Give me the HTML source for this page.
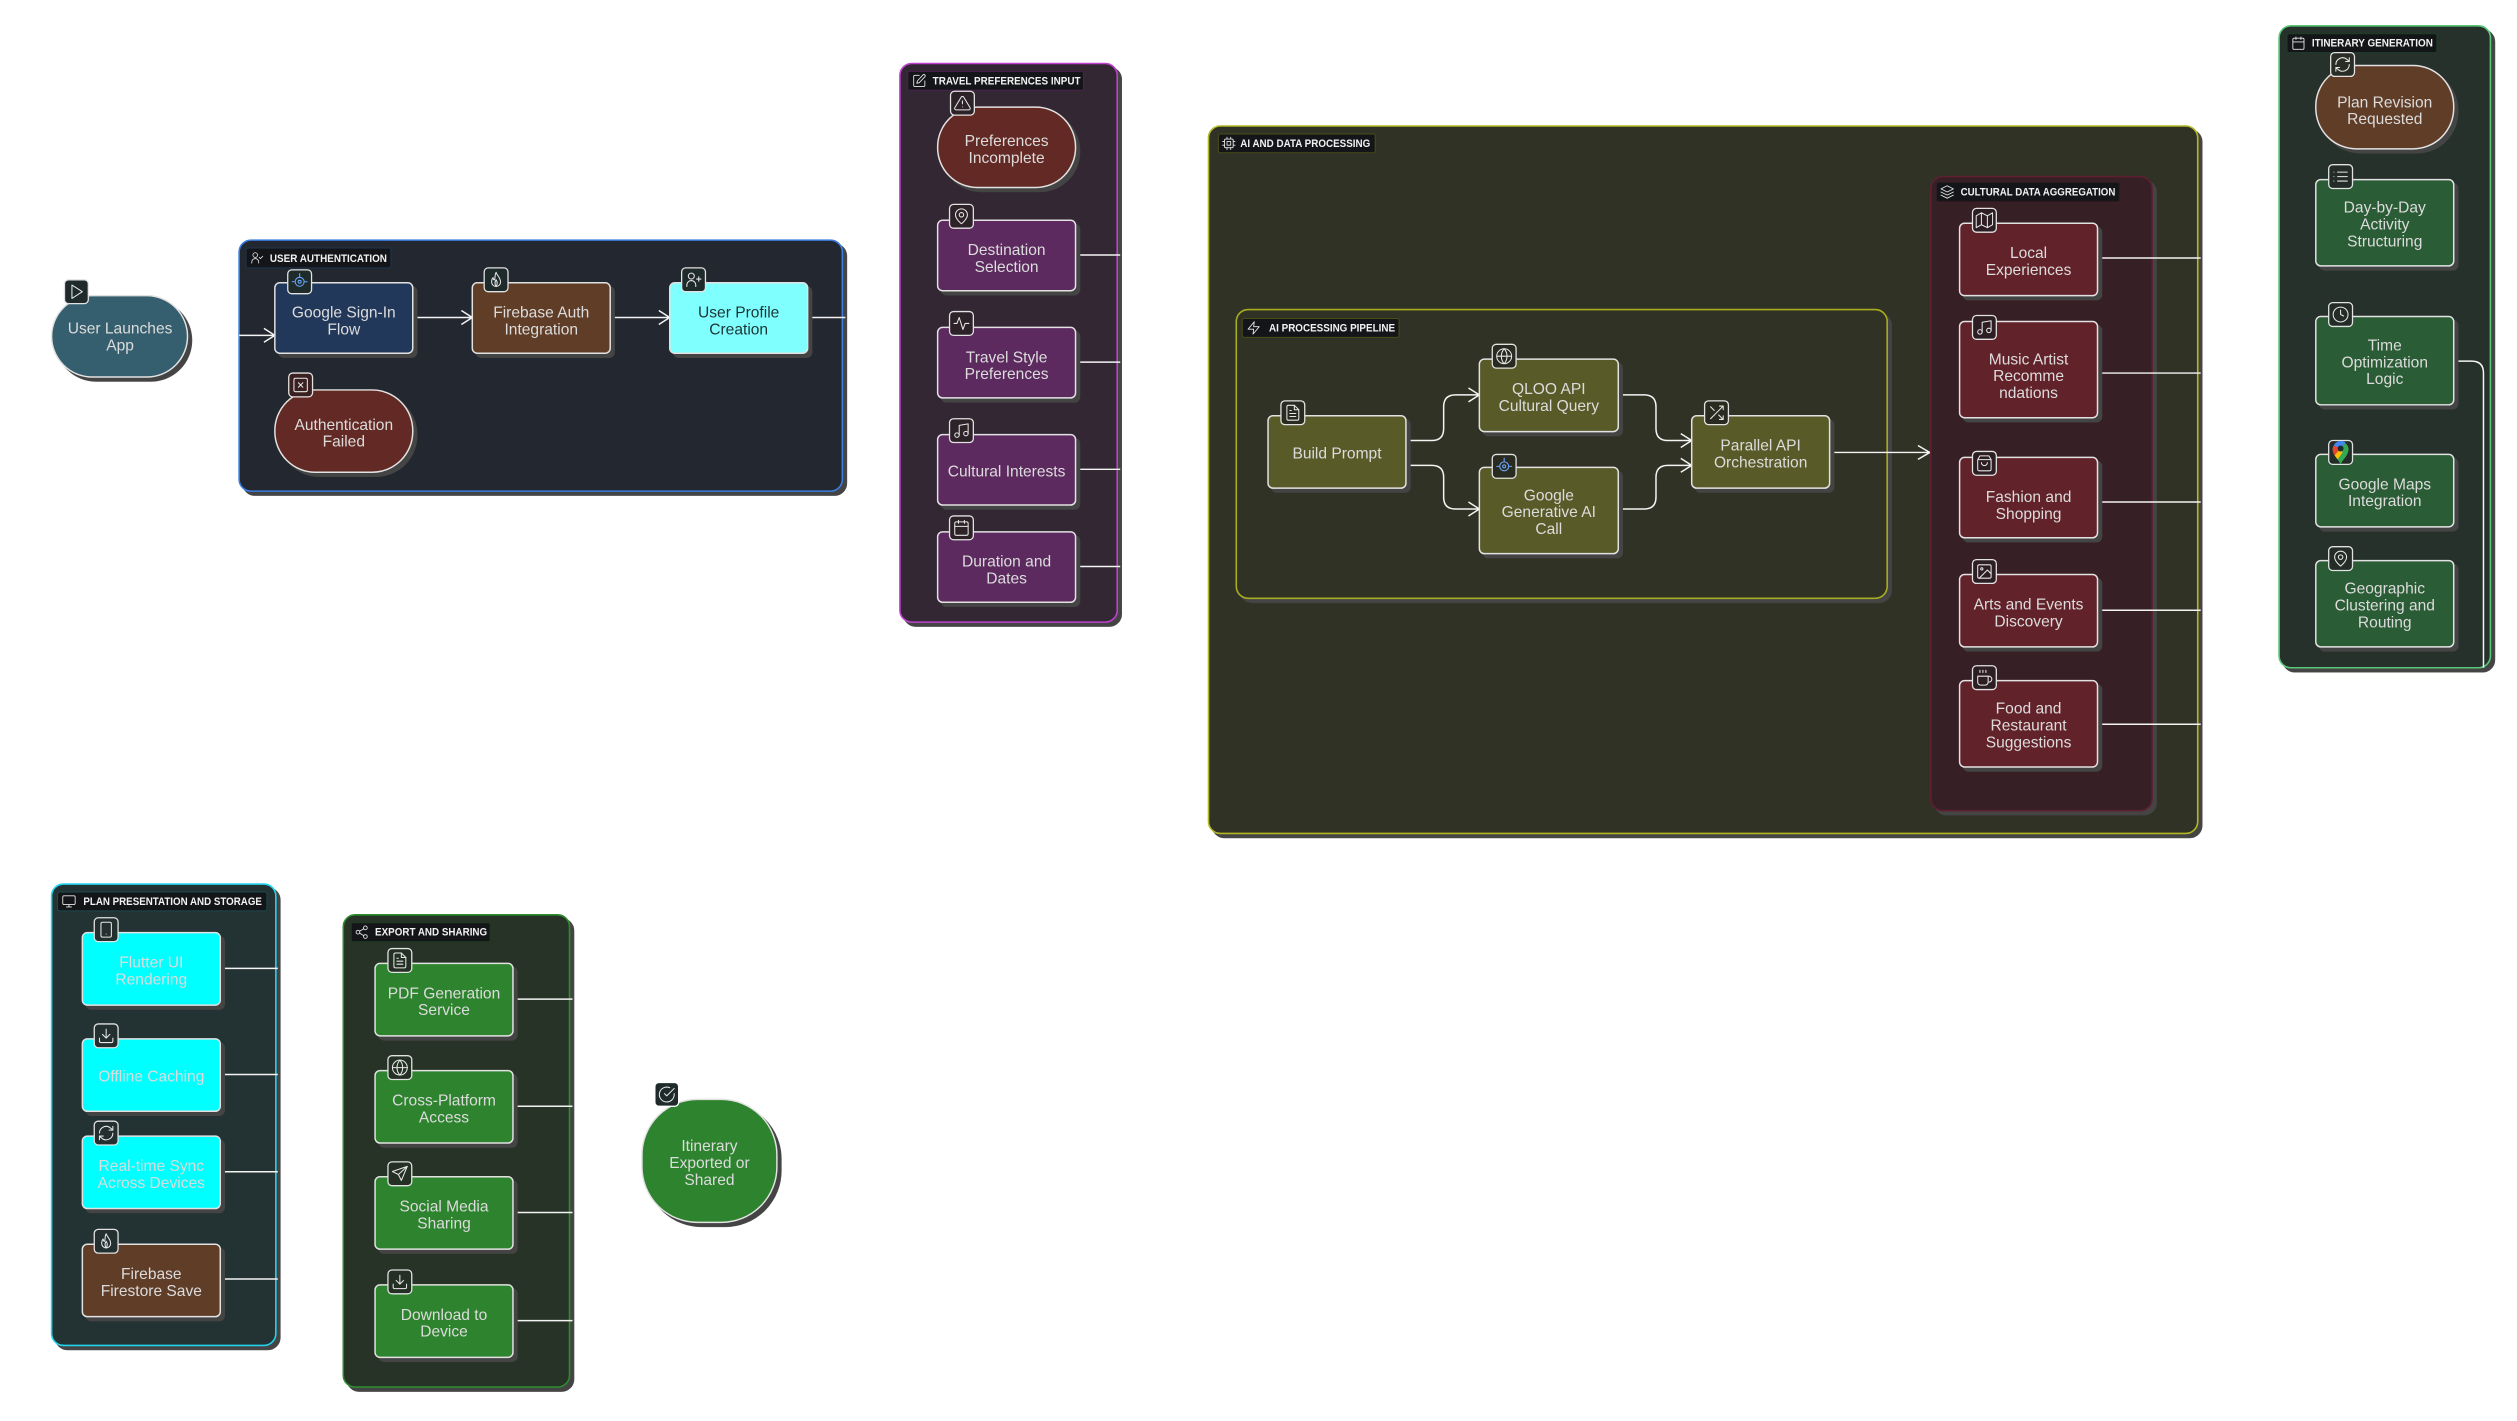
<!DOCTYPE html>
<html><head><meta charset="utf-8"><style>
html,body{margin:0;padding:0;background:#fff}
svg{display:block}
text{font-family:"Liberation Sans",sans-serif}
.t{font-size:15.7px;fill:#dcdcdc;text-anchor:middle;transform:translateY(1.200px)}
.d{fill:#1c3434}
.l{font-size:11px;font-weight:bold;fill:#f2f2f2}
.c{stroke-width:1.6;filter:drop-shadow(4px 4px 0 #444)}
.n{stroke:#e2e2e2;stroke-width:1.500;filter:drop-shadow(4px 4px 0 #444)}
.lb{fill:#141518;stroke-width:1}
.e{fill:none;stroke:#f4f4f4;stroke-width:1.5}
.ib{fill:#1f2b2b;stroke:#e2e2e2;stroke-width:1.3}
.ic{fill:none;stroke:#e8e8e8;stroke-width:1.4;stroke-linecap:round;stroke-linejoin:round}
</style></head><body>
<svg width="2517" height="1421" viewBox="0 0 2517 1421" xmlns="http://www.w3.org/2000/svg">
<defs>
<symbol id="play" viewBox="0 0 24 24"><path d="M6 3l14 9-14 9z"/></symbol>
<symbol id="user" viewBox="0 0 24 24"><circle cx="9" cy="7" r="4"/><path d="M3 21v-2a6 6 0 0 1 12 0v2"/><path d="M16 11l2 2 4-4"/></symbol>
<symbol id="userp" viewBox="0 0 24 24"><circle cx="9" cy="7" r="4"/><path d="M3 21v-2a6 6 0 0 1 12 0v2M19 8v6M16 11h6"/></symbol>
<symbol id="flame" viewBox="0 0 24 24"><path d="M12 2c1 4 6 7 6 13a6 6 0 0 1-12 0c0-3 1-5 2-6 0 2 1 3 2 3 1-3 0-7 2-10z"/><path d="M12 21c-2-3-2-6 0-9 2 3 2 6 0 9z"/></symbol>
<symbol id="x" viewBox="0 0 24 24"><rect x="3" y="3" width="18" height="18" rx="2"/><path d="M9 9l6 6M15 9l-6 6"/></symbol>
<symbol id="edit" viewBox="0 0 24 24"><path d="M12 3H5a2 2 0 0 0-2 2v14a2 2 0 0 0 2 2h14a2 2 0 0 0 2-2v-7"/><path d="M18 2.500a2.100 2.100 0 0 1 3 3L12 15l-4 1 1-4z"/></symbol>
<symbol id="warn" viewBox="0 0 24 24"><path d="M10.300 3.900L1.800 18a2 2 0 0 0 1.700 3h17a2 2 0 0 0 1.700-3L13.700 3.900a2 2 0 0 0-3.400 0zM12 9v4M12 17h.01"/></symbol>
<symbol id="pin" viewBox="0 0 24 24"><path d="M20 10c0 6-8 12-8 12s-8-6-8-12a8 8 0 0 1 16 0z"/><circle cx="12" cy="10" r="3"/></symbol>
<symbol id="pulse" viewBox="0 0 24 24"><path d="M2 12h4l3-8 5 16 3-8h5"/></symbol>
<symbol id="music" viewBox="0 0 24 24"><path d="M9 18V5l12-2v13"/><circle cx="6" cy="18" r="3"/><circle cx="18" cy="16" r="3"/></symbol>
<symbol id="cal" viewBox="0 0 24 24"><rect x="3" y="4" width="18" height="18" rx="2"/><path d="M16 2v4M8 2v4M3 10h18"/></symbol>
<symbol id="cpu" viewBox="0 0 24 24"><rect x="5" y="5" width="14" height="14" rx="2"/><rect x="9" y="9" width="6" height="6"/><path d="M9 2v3M15 2v3M9 19v3M15 19v3M2 9h3M2 15h3M19 9h3M19 15h3"/></symbol>
<symbol id="zap" viewBox="0 0 24 24"><path d="M13 2L3 14h9l-1 8 10-12h-9z"/></symbol>
<symbol id="file" viewBox="0 0 24 24"><path d="M14 2H6a2 2 0 0 0-2 2v16a2 2 0 0 0 2 2h12a2 2 0 0 0 2-2V8z"/><path d="M14 2v6h6M8 13h8M8 17h8M8 9h2"/></symbol>
<symbol id="globe" viewBox="0 0 24 24"><circle cx="12" cy="12" r="10"/><path d="M2 12h20M12 2a15 15 0 0 1 0 20 15 15 0 0 1 0-20z"/></symbol>
<symbol id="shuffle" viewBox="0 0 24 24"><path d="M16 3h5v5M4 20L21 3M21 16v5h-5M15 15l6 6M4 4l5 5"/></symbol>
<symbol id="layers" viewBox="0 0 24 24"><path d="M12 2L2 7l10 5 10-5zM2 12l10 5 10-5M2 17l10 5 10-5"/></symbol>
<symbol id="map" viewBox="0 0 24 24"><path d="M1 6v16l7-4 8 4 7-4V2l-7 4-8-4zM8 2v16M16 6v16"/></symbol>
<symbol id="bag" viewBox="0 0 24 24"><path d="M6 2h12l3 5v13a2 2 0 0 1-2 2H5a2 2 0 0 1-2-2V7zM3 7h18M16 11a4 4 0 0 1-8 0"/></symbol>
<symbol id="image" viewBox="0 0 24 24"><rect x="3" y="3" width="18" height="18" rx="2"/><circle cx="8.500" cy="8.500" r="1.500"/><path d="M21 15l-5-5L5 21"/></symbol>
<symbol id="coffee" viewBox="0 0 24 24"><path d="M17 10h1a4 4 0 0 1 0 8h-1M3 10h14v8a4 4 0 0 1-4 4H7a4 4 0 0 1-4-4zM6 2v3M10 2v3M14 2v3"/></symbol>
<symbol id="refresh" viewBox="0 0 24 24"><path d="M3 12a9 9 0 0 1 15-6.700L21 8M21 3v5h-5M21 12a9 9 0 0 1-15 6.700L3 16M8 16H3v5"/></symbol>
<symbol id="list" viewBox="0 0 24 24"><path d="M8 6h13M8 12h13M8 18h13M3 6h.01M3 12h.01M3 18h.01"/></symbol>
<symbol id="clock" viewBox="0 0 24 24"><circle cx="12" cy="12" r="10"/><path d="M12 6v6l4 2"/></symbol>
<symbol id="monitor" viewBox="0 0 24 24"><rect x="2" y="3" width="20" height="14" rx="2"/><path d="M8 21h8M12 17v4"/></symbol>
<symbol id="phone" viewBox="0 0 24 24"><rect x="5" y="2" width="14" height="20" rx="2"/><path d="M12 18h.01"/></symbol>
<symbol id="dl" viewBox="0 0 24 24"><path d="M21 15v4a2 2 0 0 1-2 2H5a2 2 0 0 1-2-2v-4M7 10l5 5 5-5M12 15V3"/></symbol>
<symbol id="share" viewBox="0 0 24 24"><circle cx="18" cy="5" r="3"/><circle cx="6" cy="12" r="3"/><circle cx="18" cy="19" r="3"/><path d="M8.600 13.500l6.800 4M15.400 6.500l-6.800 4"/></symbol>
<symbol id="send" viewBox="0 0 24 24"><path d="M22 2L2 9l8 4 4 8zM22 2L10 13"/></symbol>
<symbol id="check" viewBox="0 0 24 24"><path d="M22 11v1a10 10 0 1 1-6-9"/><path d="M9 11l3 3L22 4"/></symbol>
<symbol id="gc" viewBox="0 0 24 24"><g style="stroke:#6aa8ff"><circle cx="12" cy="12" r="6"/><circle cx="12" cy="12" r="2"/><path d="M12 1v4M2 12h3M19 12h3"/></g></symbol>
</defs>

<g transform="scale(0.9922)">
<!-- start -->
<rect class="n" x="52" y="298" width="137" height="82" rx="41" fill="#355f6e"/>
<text class="t" x="121" y="335">User Launches</text><text class="t" x="121" y="352">App</text>
<rect class="ib" x="65" y="282" width="24" height="24" rx="4"/><use href="#play" class="ic" x="68" y="285" width="18" height="18"/>

<!-- auth -->
<rect class="c" x="241" y="242" width="608" height="253" rx="12" fill="#23272f" stroke="#3b7de0"/>
<rect class="lb" x="248" y="250" width="146" height="20" rx="2" stroke="#1f3550"/>
<use href="#user" class="ic" x="252" y="253" width="14" height="14"/>
<text class="l" x="272" y="264" textLength="118" lengthAdjust="spacingAndGlyphs">USER AUTHENTICATION</text>
<path class="e" d="M241 338H277M266 331l11 7-11 7M416 320H476M465 313l11 7-11 7M615 320H675M664 313l11 7-11 7M814 320H852"/>
<rect class="n" x="277" y="285" width="139" height="71" rx="5" fill="#22385a"/>
<text class="t" x="346.500" y="319">Google Sign-In</text><text class="t" x="346.500" y="336">Flow</text>
<rect class="ib" x="290" y="272" width="24" height="24" rx="4"/><use href="#gc" class="ic" x="293" y="275" width="18" height="18"/>
<rect class="n" x="476" y="285" width="139" height="71" rx="5" fill="#5f3d27"/>
<text class="t" x="545.500" y="319">Firebase Auth</text><text class="t" x="545.500" y="336">Integration</text>
<rect class="ib" x="488" y="270" width="24" height="24" rx="4"/><use href="#flame" class="ic" x="491" y="273" width="18" height="18"/>
<rect class="n" x="675" y="285" width="139" height="71" rx="5" fill="#80ffff"/>
<text class="t d" x="744.500" y="319">User Profile</text><text class="t d" x="744.500" y="336">Creation</text>
<rect class="ib" x="687" y="270" width="24" height="24" rx="4"/><use href="#userp" class="ic" x="690" y="273" width="18" height="18"/>
<rect class="n" x="277" y="393" width="139" height="83" rx="41" fill="#632a25"/>
<text class="t" x="346.500" y="432">Authentication</text><text class="t" x="346.500" y="449">Failed</text>
<rect class="ib" x="291" y="376" width="24" height="24" rx="4" style="fill:#3a2020"/><use href="#x" class="ic" x="294" y="379" width="18" height="18"/>

<!-- travel -->
<rect class="c" x="907" y="64" width="219" height="563" rx="12" fill="#322733" stroke="#c040d0"/>
<rect class="lb" x="915" y="72" width="177" height="19" rx="2" stroke="#4a2050"/>
<use href="#edit" class="ic" x="919" y="74" width="15" height="15"/>
<text class="l" x="940" y="85" textLength="149" lengthAdjust="spacingAndGlyphs">TRAVEL PREFERENCES INPUT</text>
<path class="e" d="M1084 257H1129M1084 365H1129M1084 473H1129M1084 571H1129"/>
<rect class="n" x="945" y="108" width="139" height="81" rx="40" fill="#632a25"/>
<text class="t" x="1014.500" y="146">Preferences</text><text class="t" x="1014.500" y="163">Incomplete</text>
<rect class="ib" x="958" y="92" width="24" height="24" rx="4" style="fill:#2c2228"/><use href="#warn" class="ic" x="961" y="95" width="18" height="18"/>
<rect class="n" x="945" y="222" width="139" height="71" rx="5" fill="#5c2a5f"/>
<text class="t" x="1014.500" y="256">Destination</text><text class="t" x="1014.500" y="273">Selection</text>
<rect class="ib" x="957" y="206" width="24" height="24" rx="4" style="fill:#2c2228"/><use href="#pin" class="ic" x="960" y="209" width="18" height="18"/>
<rect class="n" x="945" y="330" width="139" height="71" rx="5" fill="#5c2a5f"/>
<text class="t" x="1014.500" y="364">Travel Style</text><text class="t" x="1014.500" y="381">Preferences</text>
<rect class="ib" x="957" y="314" width="24" height="24" rx="4" style="fill:#2c2228"/><use href="#pulse" class="ic" x="960" y="317" width="18" height="18"/>
<rect class="n" x="945" y="438" width="139" height="71" rx="5" fill="#5c2a5f"/>
<text class="t" x="1014.500" y="479">Cultural Interests</text>
<rect class="ib" x="957" y="422" width="24" height="24" rx="4" style="fill:#2c2228"/><use href="#music" class="ic" x="960" y="425" width="18" height="18"/>
<rect class="n" x="945" y="536" width="139" height="71" rx="5" fill="#5c2a5f"/>
<text class="t" x="1014.500" y="570">Duration and</text><text class="t" x="1014.500" y="587">Dates</text>
<rect class="ib" x="957" y="520" width="24" height="24" rx="4" style="fill:#2c2228"/><use href="#cal" class="ic" x="960" y="523" width="18" height="18"/>

<!-- AI -->
<rect class="c" x="1218" y="127" width="997" height="713" rx="12" fill="#313226" stroke="#b4b820"/>
<rect class="lb" x="1228" y="135" width="158" height="19" rx="2" stroke="#4a4c18"/>
<use href="#cpu" class="ic" x="1231" y="137" width="15" height="15"/>
<text class="l" x="1250" y="148" textLength="131" lengthAdjust="spacingAndGlyphs">AI AND DATA PROCESSING</text>
<rect class="c" x="1246" y="312" width="656" height="291" rx="12" fill="#313226" stroke="#a8ac20"/>
<rect class="lb" x="1252" y="321" width="158" height="19" rx="2" stroke="#4a4c18"/>
<use href="#zap" class="ic" x="1256" y="323" width="15" height="15"/>
<text class="l" x="1279" y="334" textLength="127" lengthAdjust="spacingAndGlyphs">AI PROCESSING PIPELINE</text>
<path class="e" d="M1417 444H1443Q1455 444 1455 432V410Q1455 398 1467 398H1491M1480 391l11 7-11 7M1417 469H1443Q1455 469 1455 481V501Q1455 513 1467 513H1491M1480 506l11 7-11 7M1631 398H1657Q1669 398 1669 410V432Q1669 444 1681 444H1705M1694 437l11 7-11 7M1631 513H1657Q1669 513 1669 501V481Q1669 469 1681 469H1705M1694 462l11 7-11 7M1844 456H1945M1933 449l12 7-12 7"/>
<rect class="n" x="1278" y="419" width="139" height="73" rx="5" fill="#585a28"/>
<text class="t" x="1347.500" y="461">Build Prompt</text>
<rect class="ib" x="1291" y="404" width="24" height="24" rx="4" style="fill:#2a2b20"/><use href="#file" class="ic" x="1294" y="407" width="18" height="18"/>
<rect class="n" x="1491" y="362" width="140" height="73" rx="5" fill="#585a28"/>
<text class="t" x="1561" y="396">QLOO API</text><text class="t" x="1561" y="413">Cultural Query</text>
<rect class="ib" x="1504" y="347" width="24" height="24" rx="4" style="fill:#2a2b20"/><use href="#globe" class="ic" x="1507" y="350" width="18" height="18"/>
<rect class="n" x="1491" y="471" width="140" height="87" rx="5" fill="#585a28"/>
<text class="t" x="1561" y="503">Google</text><text class="t" x="1561" y="520">Generative AI</text><text class="t" x="1561" y="537">Call</text>
<rect class="ib" x="1504" y="458" width="24" height="24" rx="4" style="fill:#2a2b20"/><use href="#gc" class="ic" x="1507" y="461" width="18" height="18"/>
<rect class="n" x="1705" y="419" width="139" height="73" rx="5" fill="#585a28"/>
<text class="t" x="1774.500" y="453">Parallel API</text><text class="t" x="1774.500" y="470">Orchestration</text>
<rect class="ib" x="1718" y="404" width="24" height="24" rx="4" style="fill:#2a2b20"/><use href="#shuffle" class="ic" x="1721" y="407" width="18" height="18"/>

<!-- cultural -->
<rect class="c" x="1946" y="178" width="223" height="639" rx="12" fill="#371f26" stroke="#5e2030"/>
<rect class="lb" x="1952" y="184" width="184" height="19" rx="2" stroke="#2c1a20"/>
<use href="#layers" class="ic" x="1955" y="186" width="15" height="15"/>
<text class="l" x="1976" y="197" textLength="156" lengthAdjust="spacingAndGlyphs">CULTURAL DATA AGGREGATION</text>
<path class="e" d="M2114 260H2218M2114 376H2218M2114 506H2218M2114 615H2218M2114 730H2218"/>
<rect class="n" x="1975" y="225" width="139" height="73" rx="5" fill="#62222a"/>
<text class="t" x="2044.500" y="259">Local</text><text class="t" x="2044.500" y="276">Experiences</text>
<rect class="ib" x="1988" y="210" width="24" height="24" rx="4" style="fill:#2c1e22"/><use href="#map" class="ic" x="1991" y="213" width="18" height="18"/>
<rect class="n" x="1975" y="324" width="139" height="97" rx="5" fill="#62222a"/>
<text class="t" x="2044.500" y="366">Music Artist</text><text class="t" x="2044.500" y="383">Recomme</text><text class="t" x="2044.500" y="400">ndations</text>
<rect class="ib" x="1988" y="318" width="24" height="24" rx="4" style="fill:#2c1e22"/><use href="#music" class="ic" x="1991" y="321" width="18" height="18"/>
<rect class="n" x="1975" y="461" width="139" height="81" rx="5" fill="#62222a"/>
<text class="t" x="2044.500" y="505">Fashion and</text><text class="t" x="2044.500" y="522">Shopping</text>
<rect class="ib" x="1988" y="455" width="24" height="24" rx="4" style="fill:#2c1e22"/><use href="#bag" class="ic" x="1991" y="458" width="18" height="18"/>
<rect class="n" x="1975" y="579" width="139" height="73" rx="5" fill="#62222a"/>
<text class="t" x="2044.500" y="613">Arts and Events</text><text class="t" x="2044.500" y="630">Discovery</text>
<rect class="ib" x="1988" y="564" width="24" height="24" rx="4" style="fill:#2c1e22"/><use href="#image" class="ic" x="1991" y="567" width="18" height="18"/>
<rect class="n" x="1975" y="686" width="139" height="87" rx="5" fill="#62222a"/>
<text class="t" x="2044.500" y="718">Food and</text><text class="t" x="2044.500" y="735">Restaurant</text><text class="t" x="2044.500" y="752">Suggestions</text>
<rect class="ib" x="1988" y="671" width="24" height="24" rx="4" style="fill:#2c1e22"/><use href="#coffee" class="ic" x="1991" y="674" width="18" height="18"/>

<!-- itinerary -->
<rect class="c" x="2297" y="26" width="213" height="647" rx="12" fill="#27312b" stroke="#58c878"/>
<rect class="lb" x="2305" y="34" width="151" height="19" rx="2" stroke="#1e3d28"/>
<use href="#cal" class="ic" x="2309" y="36" width="15" height="15"/>
<text class="l" x="2330" y="47" textLength="122" lengthAdjust="spacingAndGlyphs">ITINERARY GENERATION</text>
<path class="e" d="M2473 364H2491Q2503 364 2503 376V673"/>
<rect class="n" x="2334" y="66" width="139" height="84" rx="41" fill="#5f3d27"/>
<text class="t" x="2403.500" y="107">Plan Revision</text><text class="t" x="2403.500" y="124">Requested</text>
<rect class="ib" x="2349" y="53" width="24" height="24" rx="4" style="fill:#2a2c26"/><use href="#refresh" class="ic" x="2352" y="56" width="18" height="18"/>
<rect class="n" x="2334" y="181" width="139" height="87" rx="5" fill="#2a5c35"/>
<text class="t" x="2403.500" y="213">Day-by-Day</text><text class="t" x="2403.500" y="230">Activity</text><text class="t" x="2403.500" y="247">Structuring</text>
<rect class="ib" x="2347" y="166" width="24" height="24" rx="4" style="fill:#232c27"/><use href="#list" class="ic" x="2350" y="169" width="18" height="18"/>
<rect class="n" x="2334" y="319" width="139" height="89" rx="5" fill="#2a5c35"/>
<text class="t" x="2403.500" y="352">Time</text><text class="t" x="2403.500" y="369">Optimization</text><text class="t" x="2403.500" y="386">Logic</text>
<rect class="ib" x="2347" y="305" width="24" height="24" rx="4" style="fill:#232c27"/><use href="#clock" class="ic" x="2350" y="308" width="18" height="18"/>
<rect class="n" x="2334" y="458" width="139" height="73" rx="5" fill="#2a5c35"/>
<text class="t" x="2403.500" y="492">Google Maps</text><text class="t" x="2403.500" y="509">Integration</text>
<rect class="ib" x="2347" y="444" width="24" height="24" rx="4" style="fill:#232c27"/>
<path d="M2359 468c-2-5-8-9-8-15a8 8 0 0 1 16 0c0 6-6 10-8 15z" fill="#34a853"/><path d="M2352 449a8 8 0 0 1 12-3l-5 6z" fill="#4285f4"/><path d="M2351 453a8 8 0 0 1 1-4l7 3-6 7c-1-2-2-4-2-6z" fill="#ea4335"/><path d="M2353 459l6-7 2 4-5 7z" fill="#fbbc04"/><circle cx="2359" cy="452" r="3" fill="#1f2b2b"/>
<rect class="n" x="2334" y="565" width="139" height="87" rx="5" fill="#2a5c35"/>
<text class="t" x="2403.500" y="597">Geographic</text><text class="t" x="2403.500" y="614">Clustering and</text><text class="t" x="2403.500" y="631">Routing</text>
<rect class="ib" x="2347" y="551" width="24" height="24" rx="4" style="fill:#232c27"/><use href="#pin" class="ic" x="2350" y="554" width="18" height="18"/>

<!-- presentation -->
<rect class="c" x="52" y="891" width="226" height="465" rx="12" fill="#233232" stroke="#22d3ee"/>
<rect class="lb" x="58" y="899" width="211" height="19" rx="2" stroke="#1c4a50"/>
<use href="#monitor" class="ic" x="62" y="901" width="15" height="15"/>
<text class="l" x="84" y="912" textLength="180" lengthAdjust="spacingAndGlyphs">PLAN PRESENTATION AND STORAGE</text>
<path class="e" d="M222 976H280M222 1083H280M222 1181H280M222 1289H280"/>
<rect class="n" x="83" y="940" width="139" height="73" rx="5" fill="#00ffff"/>
<text class="t" x="152.500" y="974">Flutter UI</text><text class="t" x="152.500" y="991">Rendering</text>
<rect class="ib" x="95" y="925" width="24" height="24" rx="4" style="fill:#243030"/><use href="#phone" class="ic" x="98" y="928" width="18" height="18"/>
<rect class="n" x="83" y="1047" width="139" height="73" rx="5" fill="#00ffff"/>
<text class="t" x="152.500" y="1089">Offline Caching</text>
<rect class="ib" x="95" y="1032" width="24" height="24" rx="4" style="fill:#243030"/><use href="#dl" class="ic" x="98" y="1035" width="18" height="18"/>
<rect class="n" x="83" y="1145" width="139" height="73" rx="5" fill="#00ffff"/>
<text class="t" x="152.500" y="1179">Real-time Sync</text><text class="t" x="152.500" y="1196">Across Devices</text>
<rect class="ib" x="95" y="1130" width="24" height="24" rx="4" style="fill:#243030"/><use href="#refresh" class="ic" x="98" y="1133" width="18" height="18"/>
<rect class="n" x="83" y="1254" width="139" height="73" rx="5" fill="#5f3d27"/>
<text class="t" x="152.500" y="1288">Firebase</text><text class="t" x="152.500" y="1305">Firestore Save</text>
<rect class="ib" x="95" y="1239" width="24" height="24" rx="4" style="fill:#243030"/><use href="#flame" class="ic" x="98" y="1242" width="18" height="18"/>

<!-- export -->
<rect class="c" x="346" y="922" width="228" height="476" rx="12" fill="#263326" stroke="#2e8b2e"/>
<rect class="lb" x="354" y="930" width="140" height="19" rx="2" stroke="#1e3a1e"/>
<use href="#share" class="ic" x="357" y="932" width="15" height="15"/>
<text class="l" x="378" y="943" textLength="113" lengthAdjust="spacingAndGlyphs">EXPORT AND SHARING</text>
<path class="e" d="M517 1007H577M517 1115H577M517 1222H577M517 1331H577"/>
<rect class="n" x="378" y="971" width="139" height="73" rx="5" fill="#2e832e"/>
<text class="t" x="447.500" y="1005">PDF Generation</text><text class="t" x="447.500" y="1022">Service</text>
<rect class="ib" x="391" y="956" width="24" height="24" rx="4" style="fill:#243024"/><use href="#file" class="ic" x="394" y="959" width="18" height="18"/>
<rect class="n" x="378" y="1079" width="139" height="73" rx="5" fill="#2e832e"/>
<text class="t" x="447.500" y="1113">Cross-Platform</text><text class="t" x="447.500" y="1130">Access</text>
<rect class="ib" x="391" y="1064" width="24" height="24" rx="4" style="fill:#243024"/><use href="#globe" class="ic" x="394" y="1067" width="18" height="18"/>
<rect class="n" x="378" y="1186" width="139" height="73" rx="5" fill="#2e832e"/>
<text class="t" x="447.500" y="1220">Social Media</text><text class="t" x="447.500" y="1237">Sharing</text>
<rect class="ib" x="391" y="1171" width="24" height="24" rx="4" style="fill:#243024"/><use href="#send" class="ic" x="394" y="1174" width="18" height="18"/>
<rect class="n" x="378" y="1295" width="139" height="73" rx="5" fill="#2e832e"/>
<text class="t" x="447.500" y="1329">Download to</text><text class="t" x="447.500" y="1346">Device</text>
<rect class="ib" x="391" y="1280" width="24" height="24" rx="4" style="fill:#243024"/><use href="#dl" class="ic" x="394" y="1283" width="18" height="18"/>

<!-- end -->
<rect class="n" x="647" y="1108" width="136" height="124" rx="56" fill="#2e832e"/>
<text class="t" x="715" y="1159">Itinerary</text><text class="t" x="715" y="1176">Exported or</text><text class="t" x="715" y="1193">Shared</text>
<rect class="ib" x="660" y="1091" width="24" height="24" rx="4" style="stroke:#fff"/><use href="#check" class="ic" x="663" y="1094" width="18" height="18"/>
</g>
</svg>
</body></html>
